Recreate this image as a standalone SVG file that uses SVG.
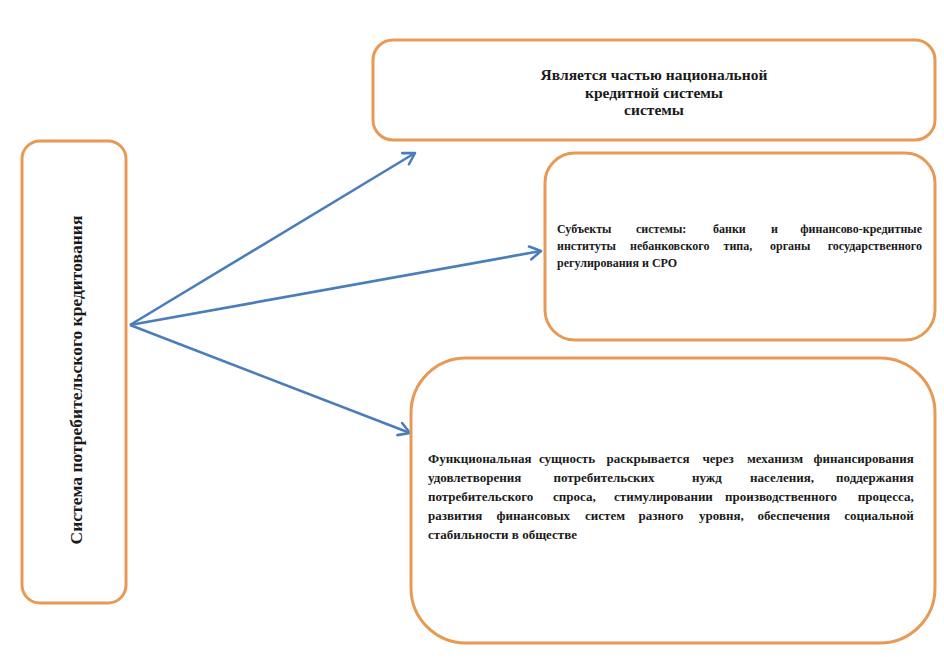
<svg xmlns="http://www.w3.org/2000/svg" width="944" height="657" viewBox="0 0 944 657">
<defs>
<style>
.box{fill:#ffffff;stroke:#e89a55;stroke-width:3}
.t{font-family:"Liberation Serif","Times New Roman",serif;font-weight:bold;fill:#1a1a1a}
.conn{stroke:#4a7ebb;stroke-width:2.6;fill:none}
</style>
<marker id="arr" markerUnits="userSpaceOnUse" markerWidth="16" markerHeight="16" viewBox="0 0 16 16" refX="14" refY="8" orient="auto">
<path d="M3,1.5 L14,8 L3,14.5" fill="none" stroke="#4a7ebb" stroke-width="2.6" stroke-linecap="round" stroke-linejoin="round"/>
</marker>
</defs>
<rect width="944" height="657" fill="#ffffff"/>
<g id="connectors">
<line class="conn" x1="130" y1="325" x2="415" y2="153" marker-end="url(#arr)"/>
<line class="conn" x1="130" y1="325" x2="541" y2="251" marker-end="url(#arr)"/>
<line class="conn" x1="130" y1="325" x2="410" y2="433" marker-end="url(#arr)"/>
</g>
<g id="node-system">
<rect class="box" x="22" y="141" width="104" height="462" rx="18"/>
<text class="t" font-size="17.5" transform="translate(82,380) rotate(-90)" text-anchor="middle">Система потребительского кредитования</text>
</g>
<g id="node-part">
<rect class="box" x="373" y="40" width="562" height="100" rx="20"/>
<text class="t" font-size="15.5" text-anchor="middle"><tspan x="654" y="80">Является частью национальной</tspan><tspan x="654" y="98">кредитной системы</tspan><tspan x="654" y="115">системы</tspan></text>
</g>
<g id="node-subjects">
<rect class="box" x="545" y="153" width="390" height="187" rx="30"/>
<text class="t" font-size="12">
<tspan x="557" y="233">Субъекты</tspan><tspan x="636" y="233">системы:</tspan><tspan x="713" y="233">банки</tspan><tspan x="771" y="233">и</tspan><tspan x="925" y="233" text-anchor="end">финансово-кредитные</tspan>
<tspan x="557" y="250">институты</tspan><tspan x="630" y="250">небанковского</tspan><tspan x="723.5" y="250">типа,</tspan><tspan x="770" y="250">органы</tspan><tspan x="925" y="250" text-anchor="end">государственного</tspan>
<tspan x="557" y="267">регулирования и СРО</tspan>
</text>
</g>
<g id="node-function">
<rect class="box" x="411" y="358" width="524" height="285" rx="55"/>
<text class="t" font-size="13">
<tspan x="428" y="463">Функциональная</tspan><tspan x="539" y="463">сущность</tspan><tspan x="606.5" y="463">раскрывается</tspan><tspan x="702.5" y="463">через</tspan><tspan x="747" y="463">механизм</tspan><tspan x="917" y="463" text-anchor="end">финансирования</tspan>
<tspan x="428" y="482">удовлетворения</tspan><tspan x="553.5" y="482">потребительских</tspan><tspan x="692" y="482">нужд</tspan><tspan x="750" y="482">населения,</tspan><tspan x="917" y="482" text-anchor="end">поддержания</tspan>
<tspan x="428" y="501">потребительского</tspan><tspan x="553" y="501">спроса,</tspan><tspan x="614" y="501">стимулировании</tspan><tspan x="725" y="501">производственного</tspan><tspan x="917" y="501" text-anchor="end">процесса,</tspan>
<tspan x="428" y="520">развития</tspan><tspan x="496.5" y="520">финансовых</tspan><tspan x="585" y="520">систем</tspan><tspan x="638.5" y="520">разного</tspan><tspan x="699" y="520">уровня,</tspan><tspan x="757.5" y="520">обеспечения</tspan><tspan x="917" y="520" text-anchor="end">социальной</tspan>
<tspan x="428" y="539">стабильности в обществе</tspan>
</text>
</g>
</svg>
